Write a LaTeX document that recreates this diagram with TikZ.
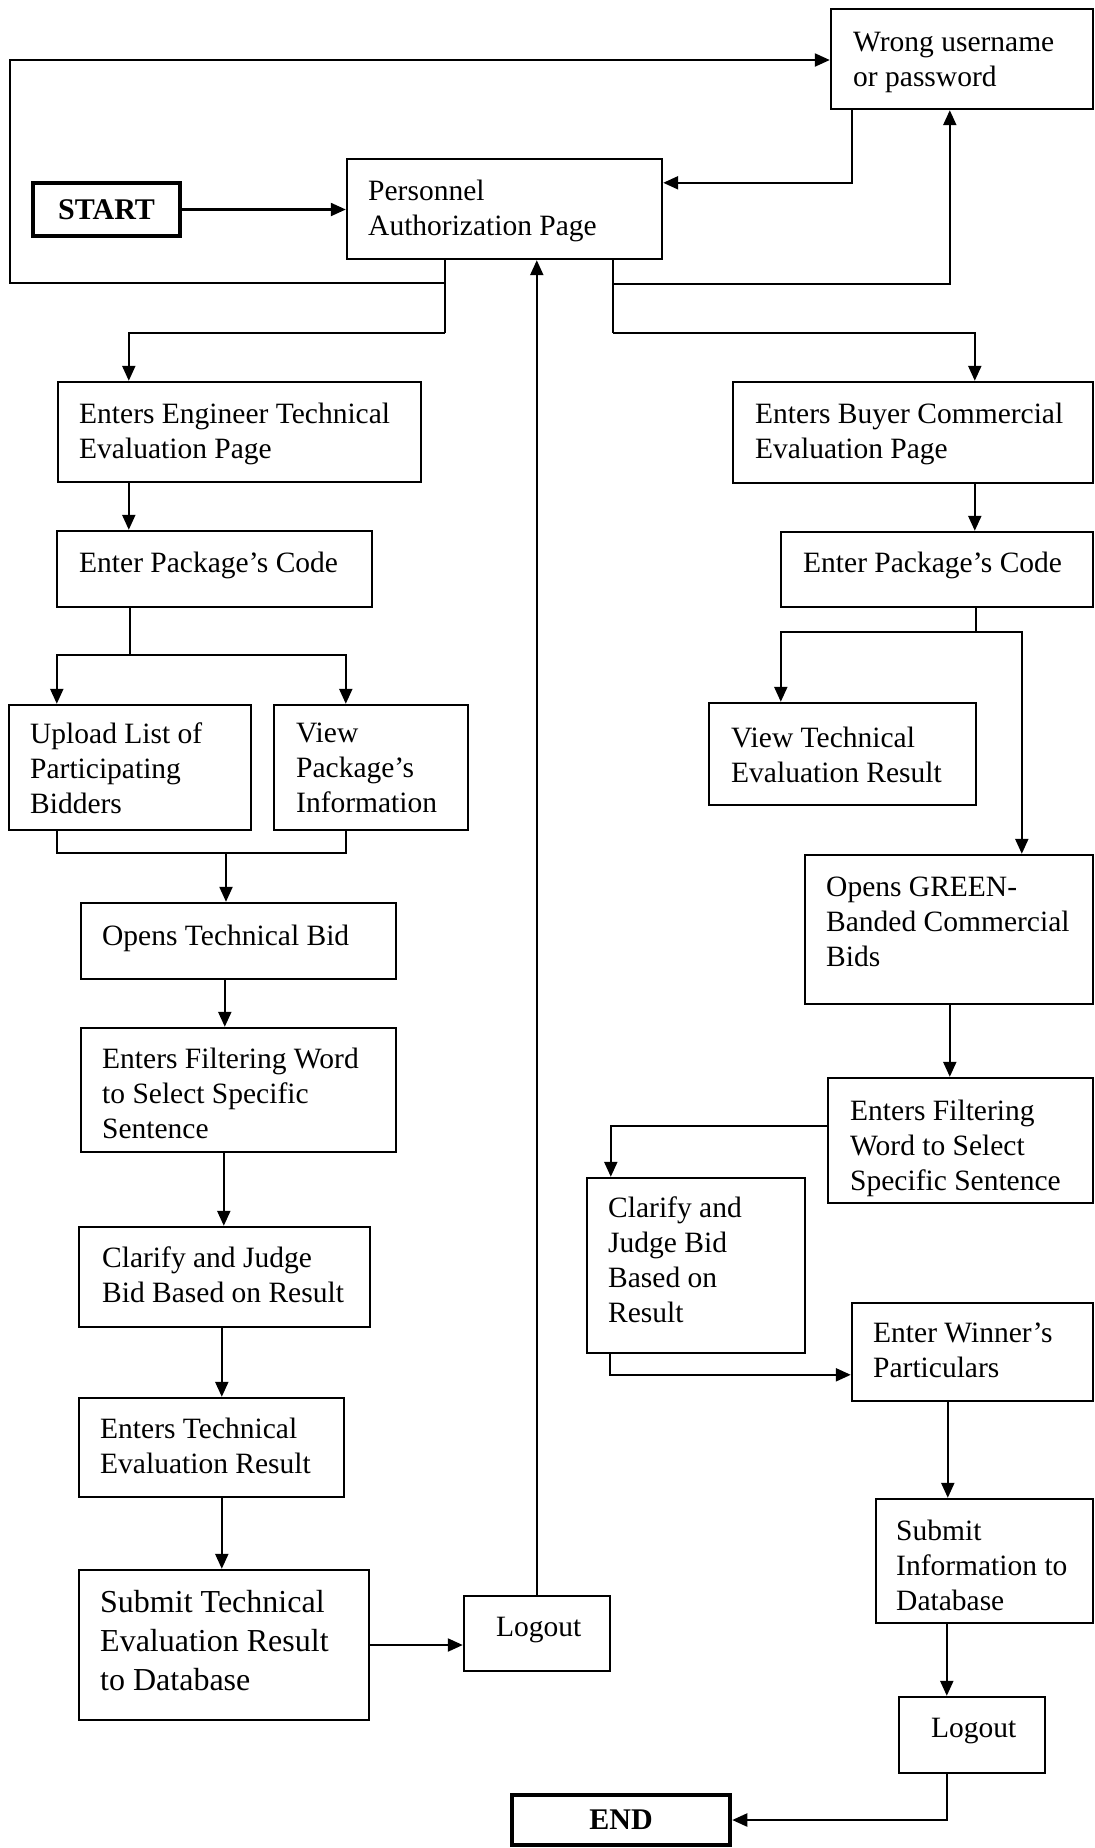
\documentclass[tikz,border=0pt]{standalone}
\usepackage{fontspec}
\setmainfont{Liberation Serif}
\usetikzlibrary{arrows.meta}

% rectangle node given by its corners: name, x1, y1, x2, y2
\newcommand\flowbox[6][boxst]{%
  \node[#1, minimum width={(#5)-(#3)}, minimum height={(#6)-(#4)}]
    (#2) at ({((#3)+(#5))/2},{((#4)+(#6))/2}) {};}

\begin{document}
\begin{tikzpicture}[x=1pt, y=-1pt,
  boxst/.style={draw, line width=2.4pt, inner sep=0pt},
  termst/.style={draw, line width=4.5pt, inner sep=0pt,
    font=\fontsize{30}{34}\selectfont\bfseries},
  txt/.style={anchor=north west, inner sep=0pt, align=left,
    font=\fontsize{29.5}{35}\selectfont},
  bigtxt/.style={txt, font=\fontsize{32}{39}\selectfont},
  line/.style={line width=2.2pt},
  arr/.style={line, -{Triangle[length=15pt,width=13pt]}}
]
\useasboundingbox (0,0) rectangle (1095,1848);

% ---------- boxes ----------
\node[termst, minimum width=147pt, minimum height=53pt] (start) at (106.5,209.5) {START};
\flowbox{auth}{347}{159}{662}{259}
\flowbox{wrong}{831}{9}{1093}{109}
% engineer (technical) branch
\flowbox{eng}{58}{382}{421}{482}
\flowbox{pkgL}{57}{531}{372}{607}
\flowbox{upload}{9}{705}{251}{830}
\flowbox{view}{274}{705}{468}{830}
\flowbox{opentb}{81}{903}{396}{979}
\flowbox{filtL}{81}{1028}{396}{1152}
\flowbox{clarL}{79}{1227}{370}{1327}
\flowbox{entres}{79}{1398}{344}{1497}
\flowbox{subT}{79}{1570}{369}{1720}
\flowbox{logL}{464}{1596}{610}{1671}
% buyer (commercial) branch
\flowbox{buyer}{733}{382}{1093}{483}
\flowbox{pkgR}{781}{532}{1093}{607}
\flowbox{viewTE}{709}{703}{976}{805}
\flowbox{green}{805}{855}{1093}{1004}
\flowbox{filtR}{828}{1078}{1093}{1203}
\flowbox{clarR}{587}{1178}{805}{1353}
\flowbox{winner}{852}{1303}{1093}{1401}
\flowbox{subInfo}{876}{1499}{1093}{1623}
\flowbox{logR}{899}{1697}{1045}{1773}
\node[termst, minimum width=218pt, minimum height=50pt] (endb) at (621,1820) {END};

% ---------- box texts ----------
\node[txt] (t-wrong) at (853,32) {Wrong username\\or password};
\node[txt] (t-auth) at (368,180) {Personnel\\Authorization Page};
\node[txt] (t-eng) at (79,403) {Enters Engineer Technical\\Evaluation Page};
\node[txt] (t-pkgL) at (79,552) {Enter Package’s Code};
\node[txt] (t-upload) at (30,723) {Upload List of\\Participating\\Bidders};
\node[txt] (t-view) at (296,723) {View\\Package’s\\Information};
\node[txt] (t-opentb) at (102,925) {Opens Technical Bid};
\node[txt] (t-filtL) at (102,1048) {Enters Filtering Word\\to Select Specific\\Sentence};
\node[txt] (t-clarL) at (102,1247) {Clarify and Judge\\Bid Based on Result};
\node[txt] (t-entres) at (100,1418) {Enters Technical\\Evaluation Result};
\node[bigtxt] (t-subT) at (100,1590) {Submit Technical\\Evaluation Result\\to Database};
\node[txt] (t-logL) at (496,1617) {Logout};
\node[txt] (t-buyer) at (755,403) {Enters Buyer Commercial\\Evaluation Page};
\node[txt] (t-pkgR) at (803,552) {Enter Package’s Code};
\node[txt] (t-viewTE) at (731,727) {View Technical\\Evaluation Result};
\node[txt] (t-green) at (826,877) {Opens GREEN-\\Banded Commercial\\Bids};
\node[txt] (t-filtR) at (850,1100) {Enters Filtering\\Word to Select\\Specific Sentence};
\node[txt] (t-clarR) at (608,1197) {Clarify and\\Judge Bid\\Based on\\Result};
\node[txt] (t-winner) at (873,1323) {Enter Winner’s\\Particulars};
\node[txt] (t-subInfo) at (896,1520) {Submit\\Information to\\Database};
\node[txt] (t-logR) at (931,1718) {Logout};

% ---------- junction points ----------
\coordinate (jL) at (445,283);
\coordinate (jL2) at (445,333);
\coordinate (loopBL) at (10,283);
\coordinate (loopTL) at (10,60);
\coordinate (jR) at (613,284);
\coordinate (jR2) at (613,333);
\coordinate (sp) at (130,655);
\coordinate (mg) at (226,853);
\coordinate (sp2) at (976,632);

% ---------- login part ----------
\draw[arr] (start.east) -- (start.east -| auth.west);
\draw[arr] ([xshift=22pt]wrong.south west) |- ([yshift=-25pt]auth.north east);
\draw[line] (jL2 |- auth.south) -- (jL2);
\draw[arr] (jL) -- (loopBL) -- (loopTL) -- (loopTL -| wrong.west);
\draw[line] (jR2 |- auth.south) -- (jR2);
\draw[arr] (jR) -| ([xshift=120pt]wrong.south west);

% ---------- technical evaluation branch ----------
\draw[arr] (jL2) -| ([xshift=72pt]eng.north west);
\draw[arr] ([xshift=72pt]eng.south west) -- ([xshift=73pt]pkgL.north west);
\draw[line] (sp |- pkgL.south) -- (sp);
\draw[arr] (sp) -| ([xshift=49pt]upload.north west);
\draw[arr] (sp) -| ([xshift=73pt]view.north west);
\draw[line] ([xshift=49pt]upload.south west) |- (mg);
\draw[line] ([xshift=73pt]view.south west) |- (mg);
\draw[arr] (mg) -- (mg |- opentb.north);
\draw[arr] ([xshift=145pt]opentb.south west) -- ([xshift=145pt]filtL.north west);
\draw[arr] ([xshift=144pt]filtL.south west) -- ([xshift=146pt]clarL.north west);
\draw[arr] ([xshift=144pt]clarL.south west) -- ([xshift=144pt]entres.north west);
\draw[arr] ([xshift=144pt]entres.south west) -- ([xshift=144pt]subT.north west);
\draw[arr] (subT.east) -- (subT.east -| logL.west);
\draw[arr] ([xshift=74pt]logL.north west) -- ([xshift=191pt]auth.south west);

% ---------- commercial evaluation branch ----------
\draw[arr] (jR2) -| ([xshift=243pt]buyer.north west);
\draw[arr] ([xshift=243pt]buyer.south west) -- ([xshift=195pt]pkgR.north west);
\draw[line] (sp2 |- pkgR.south) -- (sp2);
\draw[arr] (sp2) -| ([xshift=73pt]viewTE.north west);
\draw[arr] (sp2) -| ([xshift=218pt]green.north west);
\draw[arr] ([xshift=146pt]green.south west) -- ([xshift=123pt]filtR.north west);
\draw[arr] ([yshift=-49pt]filtR.north west) -| ([xshift=25pt]clarR.north west);
\draw[arr] ([xshift=24pt]clarR.south west) |- ([yshift=-73pt]winner.north west);
\draw[arr] ([xshift=97pt]winner.south west) -- ([xshift=73pt]subInfo.north west);
\draw[arr] ([xshift=72pt]subInfo.south west) -- ([xshift=49pt]logR.north west);
\draw[arr] ([xshift=49pt]logR.south west) |- (endb.east);
\end{tikzpicture}
\end{document}
